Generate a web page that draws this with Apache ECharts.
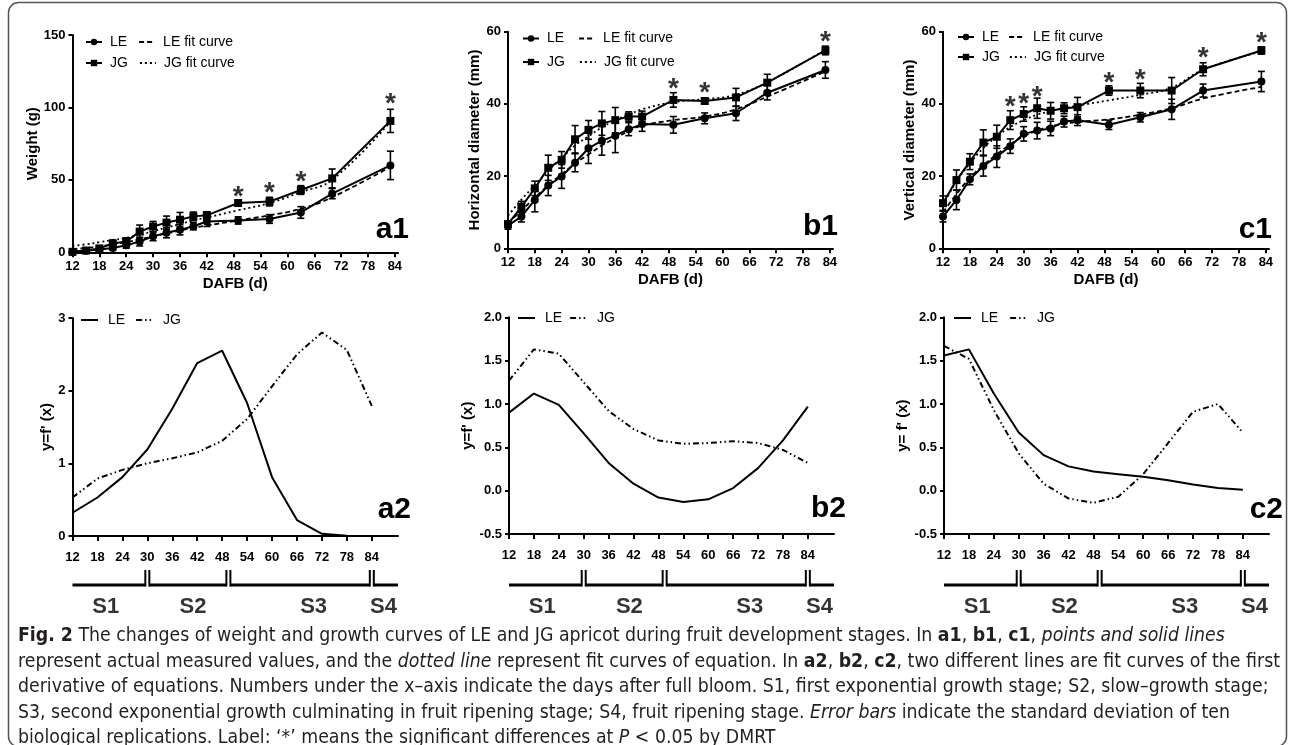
<!DOCTYPE html>
<html><head><meta charset="utf-8">
<script src="https://cdn.jsdelivr.net/npm/echarts@6/dist/echarts.min.js"></script>
<style>html,body{margin:0;padding:0;background:#fff}#c{width:1293px;height:745px}</style>
</head><body><div id="c"></div>
<script>
// ---------------- DATA ----------------
const days = [12,15,18,21,24,27,30,33,36,39,42,49,56,63,70,83];
const xTickLabels = [12,18,24,30,36,42,48,54,60,66,72,78,84];

// a1: weight (g)
const a1LE    = [0.4,1,2,3,4.8,7.4,11,13.5,15.5,18,21.3,22,23,27.5,40.5,60];
const a1LEsd  = [0.5,0.8,1,1.5,2,3,3,3.5,3.5,2.5,3.5,2.5,3,4,3.5,9.8];
const a1JG    = [0.3,1.2,2.7,6,7.5,14.3,17.8,20.5,22.5,24.8,25.5,34,35,43,51,90.7];
const a1JGsd  = [0.8,1,1.5,2.5,2.5,4.5,3.5,4.5,5,3,2.5,2,3,3,6.5,8];
const a1LEfit = [2,3,4,5.5,7,9,11,13,15,17,18.5,22,25.5,30,38,59];
const a1JGfit = [4.5,5.5,7,8.5,10,12,14.5,17,19.5,22,24,29,34,41.5,50,90];
const a1Sig   = [[49,43],[56,45.5],[63,53.5],[83,107]];

// b1: horizontal diameter (mm)
const b1LE    = [6.3,8.8,13.4,17.4,19.9,23.7,27.7,29.8,31.2,33.0,34.4,34.2,36.0,37.4,43.1,49.4];
const b1LEsd  = [1,1.5,3.3,2.8,3.3,2.5,4.2,4,4.7,1.8,2,2.3,1.5,2,2,2.3];
const b1JG    = [6.7,11.5,16.6,22.3,24.5,30.2,32.8,34.6,35.5,36.5,36.5,41.1,40.8,41.8,45.9,54.8];
const b1JGsd  = [0.8,1.5,2,3.5,2.3,3.8,2.6,3.3,3.5,1.3,1.5,2,0.8,2.5,2.3,1.2];
const b1LEfit = [7,10.5,14,17.5,20.5,23.5,26,28.5,30.5,32.5,34,35.5,36.5,38.5,42,49];
const b1JGfit = [9,13.5,17.5,21.5,25,28.5,31,33.5,35.5,37,38.5,40.5,41.3,42.5,46,55];
const b1Sig   = [[49,46.1],[56,44.8],[83,59.1]];

// c1: vertical diameter (mm)
const c1LE    = [8.8,13.4,19.1,22.8,25.4,28.3,31.7,32.6,33.2,35.1,35.5,34.2,36.3,38.5,43.7,46.2];
const c1LEsd  = [1.5,2.7,1.5,2.8,3,2,2,2.3,2,1.5,1.5,1.3,1.3,2.8,1.8,2.8];
const c1JG    = [12.5,18.9,24.0,29.3,30.9,35.5,37.2,38.8,38.1,38.8,39.1,43.7,43.7,43.7,49.6,54.8];
const c1JGsd  = [2,2.8,2.2,3.5,3.2,2.6,2,2.8,2.3,1.5,2.7,1.3,2,3.6,1.8,1];
const c1LEfit = [10,15,19.5,23,26,28.8,31,32.6,33.8,34.5,35,35.7,37,38.8,41.5,44.7];
const c1JGfit = [12,18.5,23.5,27.8,31,33.6,35.5,37,38,38.8,39.5,41,42.5,44.5,49.5,54.5];
const c1Sig   = [[27,41.1],[30,41.8],[33,43.9],[49,47.6],[56,48.5],[70,54.5],[83,58.8]];

// first derivative curves
const dDays = [12,18,24,30,36,42,48,54,60,66,72,78,84];
const a2LE = [0.32,0.53,0.81,1.19,1.75,2.38,2.55,1.83,0.81,0.22,0.03,0.005,0];
const a2JG = [0.53,0.79,0.91,1.0,1.07,1.15,1.31,1.61,2.06,2.5,2.8,2.56,1.79];
const b2LE = [0.90,1.12,0.99,0.66,0.32,0.08,-0.08,-0.13,-0.10,0.03,0.26,0.58,0.97];
const b2JG = [1.27,1.63,1.58,1.25,0.92,0.71,0.58,0.54,0.55,0.57,0.55,0.47,0.32];
const c2LE = [1.56,1.63,1.12,0.67,0.41,0.28,0.22,0.19,0.16,0.12,0.07,0.03,0.01];
const c2JG = [1.67,1.52,0.93,0.43,0.08,-0.09,-0.14,-0.07,0.19,0.55,0.91,1.0,0.67];

// stages
const stageEdges = [12,30,49.5,84,90.3];
const stageNames = ['S1','S2','S3','S4'];
const stageLabelDays = [20,41,70,86.8];

const captionLines = [
  '{b|Fig. 2} The changes of weight and growth curves of LE and JG apricot during fruit development stages. In {b|a1}, {b|b1}, {b|c1}, {i|points and solid lines}',
  'represent actual measured values, and the {i|dotted line} represent fit curves of equation. In {b|a2}, {b|b2}, {b|c2}, two different lines are fit curves of the first',
  'derivative of equations. Numbers under the x\u2013axis indicate the days after full bloom. S1, first exponential growth stage; S2, slow\u2013growth stage;',
  'S3, second exponential growth culminating in fruit ripening stage; S4, fruit ripening stage. {i|Error bars} indicate the standard deviation of ten',
  'biological replications. Label: \u2018*\u2019 means the significant differences at {i|P} < 0.05 by DMRT'
];

// ---------------- BUILD ----------------
const FONT = '"Liberation Sans", Arial, sans-serif';
function hasFont(f){
  const c=document.createElement('canvas').getContext('2d');
  const s='abcdefghijklmnopqrstuvwxyz ABCDEFG';
  c.font='40px monospace'; const w1=c.measureText(s).width;
  c.font='40px "'+f+'", monospace'; return Math.abs(c.measureText(s).width-w1)>0.5;
}
const HAS_NARROW = hasFont('Liberation Sans Narrow');
const NARROW = HAS_NARROW ? '"Liberation Sans Narrow"' : FONT;
let CAPFONT = '"Open Sans", sans-serif';
if (HAS_NARROW) CAPFONT='"Liberation Sans Narrow", sans-serif';
else if (hasFont('DejaVu Sans Condensed')) CAPFONT='"DejaVu Sans Condensed", sans-serif';
let capSize = 19;
(function(){
  const c=document.createElement('canvas').getContext('2d');
  c.font='20px '+CAPFONT;
  const plain=captionLines[0].replace(/\{[bi]\|([^}]*)\}/g,'$1');
  const w=c.measureText(plain).width;
  capSize = Math.max(12, Math.min(24, 20*1193/w));
})();

const grids=[], xAxes=[], yAxes=[], series=[], legends=[], graphics=[];
const dispName = {LE:'LE', LEfit:'LE fit curve', JG:'JG', JGfit:'JG fit curve'};
const blk = '#000';
const noSym = {color:'rgba(0,0,0,0)', borderColor:'rgba(0,0,0,0)', borderWidth:0};

function errSeries(gi, means, sds){
  return {type:'custom', xAxisIndex:gi, yAxisIndex:gi, z:4, silent:true,
    data: days.map((d,i)=>[d, means[i]-sds[i], means[i]+sds[i]]),
    renderItem:(params, api)=>{
      const x=api.value(0);
      const lo=api.coord([x, api.value(1)]), hi=api.coord([x, api.value(2)]);
      const w=3.5, st={stroke:blk, lineWidth:1.6};
      return {type:'group', children:[
        {type:'line', shape:{x1:lo[0],y1:lo[1],x2:hi[0],y2:hi[1]}, style:st},
        {type:'line', shape:{x1:lo[0]-w,y1:lo[1],x2:lo[0]+w,y2:lo[1]}, style:st},
        {type:'line', shape:{x1:hi[0]-w,y1:hi[1],x2:hi[0]+w,y2:hi[1]}, style:st}]};
    }};
}

function axisCommon(){
  return {
    axisLine:{show:true, onZero:false, lineStyle:{color:blk, width:2}},
    splitLine:{show:false}
  };
}

function topPanel(key, rect, yMax, yInt, yName, yGap, LE, LEsd, JG, JGsd, LEfit, JGfit, sig, leg){
  grids.push(rect); const gi=grids.length-1;
  xAxes.push(Object.assign(axisCommon(), {gridIndex:gi, type:'value', min:12, max:84.7,
    axisTick:{show:true, length:5, lineStyle:{color:blk,width:2}, customValues:xTickLabels},
    axisLabel:{customValues:xTickLabels, color:blk, fontWeight:'bold', fontSize:13, fontFamily:FONT, margin:8},
    name:'DAFB (d)', nameLocation:'middle', nameGap:24,
    nameTextStyle:{color:blk, fontWeight:'bold', fontSize:15, fontFamily:FONT, verticalAlign:'top'}}));
  yAxes.push(Object.assign(axisCommon(), {gridIndex:gi, type:'value', min:0, max:yMax, interval:yInt,
    axisTick:{show:true, length:4, lineStyle:{color:blk,width:2}},
    axisLabel:{color:blk, fontWeight:'bold', fontSize:13, fontFamily:FONT, margin:7},
    name:yName, nameLocation:'middle', nameGap:yGap, nameRotate:90,
    nameTextStyle:{color:blk, fontWeight:'bold', fontSize:15, fontFamily:FONT}}));
  const pts = arr => days.map((d,i)=>[d,arr[i]]);
  series.push({name:key+'_LE', type:'line', xAxisIndex:gi, yAxisIndex:gi, data:pts(LE), symbol:'circle', symbolSize:8,
    lineStyle:{color:blk,width:2}, itemStyle:{color:blk}, z:5});
  series.push({name:key+'_JG', type:'line', xAxisIndex:gi, yAxisIndex:gi, data:pts(JG), symbol:'rect', symbolSize:8,
    lineStyle:{color:blk,width:2}, itemStyle:{color:blk}, z:5});
  series.push({name:key+'_LEfit', type:'line', xAxisIndex:gi, yAxisIndex:gi, data:pts(LEfit), symbol:'none', smooth:0.4,
    lineStyle:{color:blk,width:1.8,type:[5,3]}, itemStyle:{color:blk}, z:3});
  series.push({name:key+'_JGfit', type:'line', xAxisIndex:gi, yAxisIndex:gi, data:pts(JGfit), symbol:'none', smooth:0.4,
    lineStyle:{color:blk,width:1.8,type:[2,3]}, itemStyle:{color:blk}, z:3});
  series.push(errSeries(gi, LE, LEsd));
  series.push(errSeries(gi, JG, JGsd));
  series.push({type:'scatter', xAxisIndex:gi, yAxisIndex:gi, data:sig, symbolSize:0, silent:true, z:6,
    label:{show:true, formatter:'*', position:'inside', offset:[0,7], color:blk, fontSize:28, fontWeight:'bold', fontFamily:FONT}});
  const legBase = {orient:'horizontal', padding:0, itemWidth:16, itemHeight:8, selectedMode:false,
    formatter:n=>dispName[n.split('_')[1]],
    textStyle:{color:blk, fontSize:14, fontFamily:FONT, padding:[0,0,0,3]}};
  legends.push(Object.assign({}, legBase, {left:leg.left, top:leg.top1, itemGap:leg.gap,
    data:[key+'_LE', {name:key+'_LEfit', itemStyle:noSym}]}));
  legends.push(Object.assign({}, legBase, {left:leg.left, top:leg.top2, itemGap:leg.gap,
    data:[key+'_JG', {name:key+'_JGfit', itemStyle:noSym}]}));
}

function lowPanel(key, rect, yMin, yMax, yInt, dec, yName, yGap, LE, JG, leg, stageRect){
  grids.push(rect); const gi=grids.length-1;
  xAxes.push(Object.assign(axisCommon(), {gridIndex:gi, type:'value', min:12, max:90.3,
    axisTick:{show:true, length:5, lineStyle:{color:blk,width:2}, customValues:xTickLabels},
    axisLabel:{customValues:xTickLabels, color:blk, fontWeight:'bold', fontSize:13, fontFamily:FONT, margin:15}}));
  yAxes.push(Object.assign(axisCommon(), {gridIndex:gi, type:'value', min:yMin, max:yMax, interval:yInt,
    axisTick:{show:true, length:4, lineStyle:{color:blk,width:2}},
    axisLabel:{color:blk, fontWeight:'bold', fontSize:13, fontFamily:FONT, margin:7, formatter:v=>v.toFixed(dec)},
    name:yName, nameLocation:'middle', nameGap:yGap, nameRotate:90,
    nameTextStyle:{color:blk, fontWeight:'bold', fontSize:15, fontFamily:FONT}}));
  const pts = arr => dDays.map((d,i)=>[d,arr[i]]);
  series.push({name:key+'_LE', type:'line', xAxisIndex:gi, yAxisIndex:gi, data:pts(LE), symbol:'none', smooth:false,
    lineStyle:{color:blk,width:2}, itemStyle:{color:blk}});
  series.push({name:key+'_JG', type:'line', xAxisIndex:gi, yAxisIndex:gi, data:pts(JG), symbol:'none', smooth:false,
    lineStyle:{color:blk,width:2,type:[6,3,1.5,3,1.5,3]}, itemStyle:{color:blk}});
  legends.push({orient:'horizontal', padding:0, itemWidth:17, itemHeight:8, selectedMode:false,
    left:leg.left, top:leg.top, itemGap:leg.gap,
    data:[{name:key+'_LE', itemStyle:noSym}, {name:key+'_JG', itemStyle:noSym}],
    formatter:n=>dispName[n.split('_')[1]],
    textStyle:{color:blk, fontSize:14, fontFamily:FONT, padding:[0,0,0,5]}});
  // stage bar grid
  grids.push(stageRect); const si=grids.length-1;
  xAxes.push({gridIndex:si, type:'value', min:12, max:90.3, show:false});
  yAxes.push({gridIndex:si, type:'value', min:-2.333, max:1, show:false});
  series.push({type:'custom', xAxisIndex:si, yAxisIndex:si, silent:true,
    data: stageNames.map((n,i)=>[stageEdges[i], stageEdges[i+1], i]),
    renderItem:(p, api)=>{
      const i=api.value(2), n=stageNames.length;
      const a=api.coord([api.value(0),0]), b=api.coord([api.value(1),0]);
      const top=api.coord([12,1])[1];
      const g=2;
      const x0 = i>0 ? a[0]+g : a[0], x1 = i<n-1 ? b[0]-g : b[0];
      const ch=[{type:'line', shape:{x1:x0,y1:a[1],x2:x1,y2:a[1]}, style:{stroke:blk,lineWidth:3}}];
      if(i>0) ch.push({type:'line', shape:{x1:x0,y1:a[1]+1.5,x2:x0,y2:top}, style:{stroke:blk,lineWidth:2}});
      if(i<n-1) ch.push({type:'line', shape:{x1:x1,y1:a[1]+1.5,x2:x1,y2:top}, style:{stroke:blk,lineWidth:2}});
      return {type:'group', children:ch};
    }});
  series.push({type:'scatter', xAxisIndex:si, yAxisIndex:si, silent:true, symbolSize:0,
    data: stageNames.map((n,i)=>[stageLabelDays[i], -1.45, n]),
    label:{show:true, position:'inside', formatter:p=>p.value[2], color:blk,
      fontSize: HAS_NARROW ? 24 : 22, fontWeight:'bold', fontFamily:NARROW}});
}

topPanel('a1', {left:72.5, top:35, width:325.5, height:217.3}, 150, 50, 'Weight (g)', 31,
  a1LE, a1LEsd, a1JG, a1JGsd, a1LEfit, a1JGfit, a1Sig, {left:85, top1:35, top2:56, gap:11});
topPanel('b1', {left:508, top:31.7, width:325, height:216.6}, 60, 20, 'Horizontal diameter (mm)', 22,
  b1LE, b1LEsd, b1JG, b1JGsd, b1LEfit, b1JGfit, b1Sig, {left:522, top1:31.5, top2:55, gap:14});
topPanel('c1', {left:943, top:31.7, width:326, height:216.6}, 60, 20, 'Vertical diameter (mm)', 23,
  c1LE, c1LEsd, c1JG, c1JGsd, c1LEfit, c1JGfit, c1Sig, {left:957, top1:30, top2:50, gap:9});

lowPanel('a2', {left:72.5, top:318, width:325.5, height:218}, 0, 3, 1, 0, "y=f' (x)", 17, a2LE, a2JG,
  {left:80, top:313, gap:10}, {left:72.5, top:570, width:325.5, height:50});
lowPanel('b2', {left:509, top:317.3, width:325, height:216.7}, -0.5, 2, 0.5, 1, "y=f' (x)", 25, b2LE, b2JG,
  {left:517, top:311, gap:7}, {left:509, top:570, width:325, height:50});
lowPanel('c2', {left:944, top:317.3, width:325, height:216.7}, -0.5, 2, 0.5, 1, "y= f' (x)", 28, c2LE, c2JG,
  {left:953, top:311, gap:11}, {left:944, top:570, width:325, height:50});

// panel tags
const tags = [['a1',409,230],['b1',838,227],['c1',1272,230],['a2',411,510],['b2',846,509],['c2',1283,510]];
tags.forEach(t=>graphics.push({type:'text', x:t[1], y:t[2], silent:true,
  style:{text:t[0], fill:blk, fontSize:30, fontWeight:'bold', fontFamily:FONT, align:'right', verticalAlign:'middle'}}));

// frame
graphics.push({type:'rect', silent:true, shape:{x:8.5,y:2.5,width:1278,height:744,r:10},
  style:{fill:'none', stroke:'#555', lineWidth:1.5}, z:-1});

// caption
const capYs = [636, 661.5, 687, 712.5, 737.5];
const capColor = '#231f20';
captionLines.forEach((line,i)=>graphics.push({type:'text', x:18, y:capYs[i], silent:true,
  style:{text:line, fill:capColor, fontSize:capSize, fontFamily:CAPFONT, verticalAlign:'middle', align:'left',
    rich:{
      b:{fontWeight:'bold', fontSize:capSize, fontFamily:CAPFONT, fill:capColor},
      i:{fontStyle:'italic', fontSize:capSize, fontFamily:CAPFONT, fill:capColor}
    }}}));

const chart = echarts.init(document.getElementById('c'), null, {renderer:'canvas'});
chart.setOption({
  animation:false,
  backgroundColor:'#fff',
  grid:grids, xAxis:xAxes, yAxis:yAxes, legend:legends, series:series, graphic:graphics
});
</script></body></html>
